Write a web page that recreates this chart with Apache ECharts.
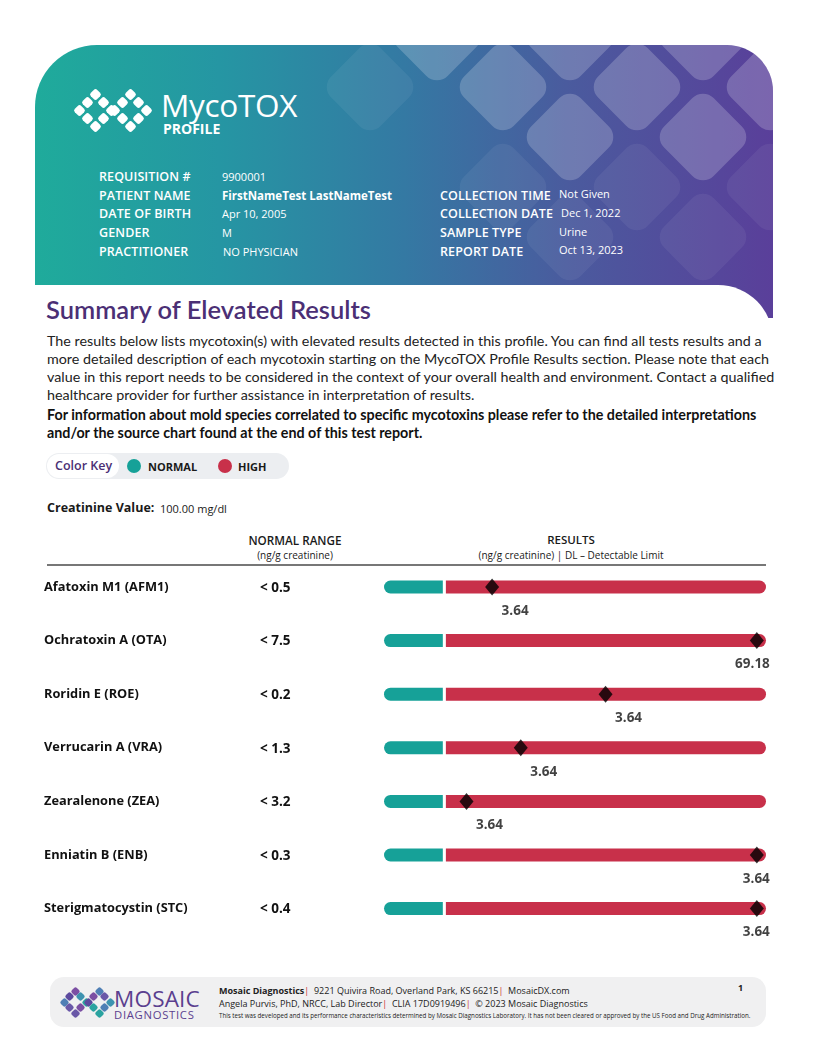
<!DOCTYPE html>
<html><head><meta charset="utf-8">
<script src="https://cdn.jsdelivr.net/npm/echarts@6/dist/echarts.min.js"></script>
<style>
html,body{margin:0;padding:0;background:#fff;}
body{width:816px;height:1056px;position:relative;overflow:hidden;font-family:"Open Sans",sans-serif;color:#1a1a1a;}
.abs{position:absolute;white-space:nowrap;}
#banner{position:absolute;left:35px;top:45px;width:738px;height:273px;border-radius:62px 46px 0 0;overflow:hidden;
background:linear-gradient(90deg,#1fab9b 0%,#2596a3 25%,#3479a3 50%,#4a5b9e 72%,#5a3f9a 100%);}
.dia{position:absolute;width:70px;height:70px;border-radius:15px;transform:rotate(45deg);background:rgba(255,255,255,0.2);}
.dia.f{background:rgba(255,255,255,0.06);}
#cut{position:absolute;left:35px;top:285px;width:738px;height:60px;background:#fff;border-top-right-radius:55px;}
.lab{position:absolute;color:#fff;font-size:12.5px;font-weight:600;letter-spacing:0.1px;white-space:nowrap;}
.val{position:absolute;color:#fff;font-size:11px;white-space:nowrap;}
.sq{position:absolute;width:9px;height:9px;border-radius:2.5px;background:#fff;transform:rotate(45deg);}
.msq{position:absolute;width:7px;height:7px;border-radius:2px;transform:rotate(45deg);}
</style></head>
<body>
<div id="banner">
  <div class="dia" style="left:433px;top:7px"></div>
  <div class="dia" style="left:567px;top:7px"></div>
  <div class="dia" style="left:700px;top:7px"></div>
  <div class="dia" style="left:367px;top:-43px"></div>
  <div class="dia" style="left:500px;top:-43px"></div>
  <div class="dia" style="left:633px;top:-43px"></div>
  <div class="dia" style="left:500px;top:57px"></div>
  <div class="dia" style="left:633px;top:57px"></div>
  <div class="dia f" style="left:300px;top:7px"></div>
  <div class="dia f" style="left:433px;top:107px"></div>
  <div class="dia f" style="left:567px;top:107px"></div>
  <div class="dia f" style="left:700px;top:107px"></div>
  <div class="dia f" style="left:500px;top:157px"></div>
  <div class="dia f" style="left:633px;top:157px"></div>
</div>
<div id="cut"></div>
<div id="logo"></div>
<div class="abs" style="left:161px;top:83px;color:#fff;font-size:31.5px;font-weight:500;letter-spacing:-0.3px">MycoTOX</div>
<div class="abs" style="left:163px;top:119px;color:#fff;font-size:14px;font-weight:700">PROFILE</div>

<div class="lab" style="left:99px;top:168px">REQUISITION #</div>
<div class="lab" style="left:99px;top:187px">PATIENT NAME</div>
<div class="lab" style="left:99px;top:205px">DATE OF BIRTH</div>
<div class="lab" style="left:99px;top:224px">GENDER</div>
<div class="lab" style="left:99px;top:243px">PRACTITIONER</div>
<div class="val" style="left:222px;top:169px">9900001</div>
<div class="val" style="left:222px;top:188px;font-weight:700;font-size:11.5px">FirstNameTest LastNameTest</div>
<div class="val" style="left:222px;top:206px">Apr 10, 2005</div>
<div class="val" style="left:222px;top:225px">M</div>
<div class="val" style="left:223px;top:244px">NO PHYSICIAN</div>
<div class="lab" style="left:440px;top:187px">COLLECTION TIME</div>
<div class="lab" style="left:440px;top:205px">COLLECTION DATE</div>
<div class="lab" style="left:440px;top:224px">SAMPLE TYPE</div>
<div class="lab" style="left:440px;top:243px">REPORT DATE</div>
<div class="val" style="left:559px;top:186px">Not Given</div>
<div class="val" style="left:561px;top:205px">Dec 1, 2022</div>
<div class="val" style="left:559px;top:224px">Urine</div>
<div class="val" style="left:559px;top:242px">Oct 13, 2023</div>

<div class="abs" style="left:46px;top:294px;font-size:25.5px;font-weight:600;color:#4b2f75;font-family:Lato,sans-serif">Summary of Elevated Results</div>
<div class="abs" style="left:47px;top:332px;width:735px;white-space:normal;font-family:Lato,sans-serif;font-size:14.3px;line-height:18px;color:#222">
The results below lists mycotoxin(s) with elevated results detected in this profile. You can find all tests results and a more detailed description of each mycotoxin starting on the MycoTOX Profile Results section. Please note that each value in this report needs to be considered in the context of your overall health and environment. Contact a qualified healthcare provider for further assistance in interpretation of results.</div>
<div class="abs" style="left:47px;top:406px;width:735px;white-space:normal;font-family:Lato,sans-serif;font-size:14.3px;line-height:18px;font-weight:700;color:#111">
For information about mold species correlated to specific mycotoxins please refer to the detailed interpretations and/or the source chart found at the end of this test report.</div>

<div class="abs" style="left:46px;top:453px;width:243px;height:26px;border-radius:13px;background:#eceef1"></div>
<div class="abs" style="left:47px;top:454px;width:72px;height:24px;border-radius:12px;background:#fff"></div>
<div class="abs" style="left:55px;top:457px;font-size:12.5px;color:#4b2f75;font-weight:600">Color Key</div>
<div class="abs" style="left:127px;top:459px;width:14px;height:14px;border-radius:7px;background:#16a198"></div>
<div class="abs" style="left:148px;top:459px;font-size:11px;font-weight:700">NORMAL</div>
<div class="abs" style="left:218px;top:459px;width:14px;height:14px;border-radius:7px;background:#c8304a"></div>
<div class="abs" style="left:238px;top:459px;font-size:11px;font-weight:700">HIGH</div>

<div class="abs" style="left:47px;top:499px;font-size:12.5px;font-weight:700">Creatinine Value:</div>
<div class="abs" style="left:160px;top:501px;font-size:11px">100.00 mg/dl</div>

<div class="abs" style="left:235px;top:532px;width:120px;text-align:center;font-size:11.7px;font-weight:600">NORMAL RANGE</div>
<div class="abs" style="left:235px;top:548px;width:120px;text-align:center;font-size:10px">(ng/g creatinine)</div>
<div class="abs" style="left:461px;top:532px;width:220px;text-align:center;font-size:11.5px;font-weight:600">RESULTS</div>
<div class="abs" style="left:461px;top:548px;width:220px;text-align:center;font-size:10px">(ng/g creatinine) | DL – Detectable Limit</div>
<div class="abs" style="left:47px;top:564px;width:719px;height:1.5px;background:#777"></div>

<div id="chart" style="position:absolute;left:0;top:525px;width:816px;height:440px"></div>

<div class="abs" style="left:50px;top:977px;width:716px;height:50px;border-radius:14px;background:#f0f0f1"></div>
<div id="mlogo"></div>
<div class="abs" style="left:114px;top:983px;font-size:22.5px;font-weight:500;color:#5b3f8f;letter-spacing:0.2px">MOSAIC</div>
<div class="abs" style="left:114px;top:1007px;font-size:11.3px;color:#5b3f8f;letter-spacing:0.7px">DIAGNOSTICS</div>
<div class="abs" style="left:219px;top:984px;font-size:9px;color:#222"><b>Mosaic Diagnostics</b><span style="color:#c33">|</span>&nbsp; 9221 Quivira Road, Overland Park, KS 66215<span style="color:#c33">|</span>&nbsp; MosaicDX.com</div>
<div class="abs" style="left:219px;top:997px;font-size:9px;color:#222">Angela Purvis, PhD, NRCC, Lab Director<span style="color:#c33">|</span>&nbsp; CLIA 17D0919496<span style="color:#c33">|</span>&nbsp; © 2023 Mosaic Diagnostics</div>
<div class="abs" style="left:219px;top:1011px;font-size:6.2px;color:#222">This test was developed and its performance characteristics determined by Mosaic Diagnostics Laboratory. It has not been cleared or approved by the US Food and Drug Administration.</div>
<div class="abs" style="left:738px;top:981px;font-size:9px;font-weight:700">1</div>

<script>
// ---- data ----
const toxins = ['Afatoxin M1 (AFM1)','Ochratoxin A (OTA)','Roridin E (ROE)','Verrucarin A (VRA)','Zearalenone (ZEA)','Enniatin B (ENB)','Sterigmatocystin (STC)'];
const normalRanges = ['< 0.5','< 7.5','< 0.2','< 1.3','< 3.2','< 0.3','< 0.4'];
const resultLabels = ['3.64','69.18','3.64','3.64','3.64','3.64','3.64'];
// marker position along the result bar (percent of bar length)
const markerPos = [28.3, 97.6, 58.0, 35.8, 21.6, 97.6, 97.6];
// bar segments (percent of bar length)
const normalBand = [15.4,15.4,15.4,15.4,15.4,15.4,15.4];
const bandGap = [0.8,0.8,0.8,0.8,0.8,0.8,0.8];
const highBand = [83.8,83.8,83.8,83.8,83.8,83.8,83.8];

// ---- logos (decor) ----
(function(){
  const pts=[[-1,-1],[1,1],[-1,1],[1,-1],[-1,0],[0,-1],[1,0],[0,1]];
  const L=document.getElementById('logo');
  [[95,110],[130,110]].forEach(c=>pts.forEach(p=>{
    const s=8, x=c[0]+(p[0]-p[1])*s, y=c[1]+(p[0]+p[1])*s;
    const d=document.createElement('div');d.className='sq';
    d.style.left=(x-4.5)+'px';d.style.top=(y-4.5)+'px';L.appendChild(d);}));
  const M=document.getElementById('mlogo');
  const cols=['#7b4fa3','#6a58a8','#4f7fb5','#2aa3a0','#5c4a9e','#3d93b0'];
  let k=0;
  [[75,1002],[99,1002]].forEach(c=>pts.forEach(p=>{
    const s=5.5, x=c[0]+(p[0]-p[1])*s, y=c[1]+(p[0]+p[1])*s;
    const d=document.createElement('div');d.className='msq';d.style.background=cols[(k++)%cols.length];
    d.style.left=(x-3.5)+'px';d.style.top=(y-3.5)+'px';M.appendChild(d);}));
})();

// ---- chart ----
const chart = echarts.init(document.getElementById('chart'));
const rowH = 53.6;
chart.setOption({
  animation:false,
  grid:{left:384,right:50,top:62-rowH/2,height:rowH*toxins.length},
  xAxis:{type:'value',min:0,max:100,show:false},
  yAxis:{type:'category',inverse:true,data:toxins,
    axisLine:{show:false},axisTick:{show:false},
    axisLabel:{margin:340,align:'left',
      formatter:(v,i)=>'{n|'+v+'}{r|'+normalRanges[i]+'}',
      rich:{n:{width:216,fontSize:12.8,fontWeight:'bold',color:'#111',fontFamily:'Open Sans'},
            r:{fontSize:13.5,fontWeight:'bold',color:'#111',fontFamily:'Open Sans',padding:[2,0,0,0]}}}},
  series:[
    {name:'NORMAL',type:'bar',stack:'s',barWidth:13,data:normalBand,
      itemStyle:{color:'#16a198',borderRadius:[6.5,0,0,6.5]},silent:true},
    {name:'gap',type:'bar',stack:'s',barWidth:13,data:bandGap,itemStyle:{color:'rgba(0,0,0,0)'},silent:true},
    {name:'HIGH',type:'bar',stack:'s',barWidth:13,data:highBand,
      itemStyle:{color:'#c8304a',borderRadius:[0,6.5,6.5,0]},silent:true},
    {name:'Result',type:'scatter',symbol:'diamond',symbolSize:[14,17],z:5,
      itemStyle:{color:'#000'},
      data:markerPos.map((p,i)=>({value:[p,toxins[i]],
        label:p>90?{align:'right',offset:[13,24]}:{align:'center',offset:[23,24]}})),
      label:{show:true,position:'inside',fontSize:13.5,fontWeight:'bold',color:'#111',fontFamily:'Open Sans',
        formatter:(pr)=>resultLabels[pr.dataIndex]}}
  ]
});
</script>
</body></html>
